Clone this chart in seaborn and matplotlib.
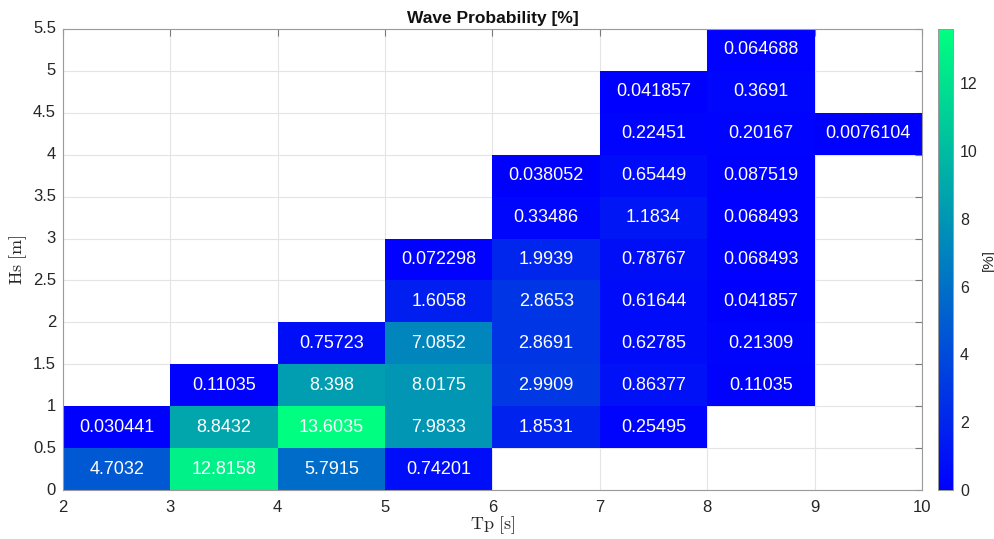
import numpy as np
import pandas as pd
import matplotlib
matplotlib.use("Agg")
import matplotlib.pyplot as plt
import seaborn as sns

# Peak period bins (lower edges, s) and significant wave height bins (lower edges, m)
tp_edges = [2, 3, 4, 5, 6, 7, 8, 9, 10]
hs_edges = [0, 0.5, 1, 1.5, 2, 2.5, 3, 3.5, 4, 4.5, 5, 5.5]

# Occurrence probability [%] per Hs row (bottom to top), one value per Tp bin
hs_0_0_5 = [4.7032, 12.8158, 5.7915, 0.74201, None, None, None, None]
hs_0_5_1 = [0.030441, 8.8432, 13.6035, 7.9833, 1.8531, 0.25495, None, None]
hs_1_1_5 = [None, 0.11035, 8.398, 8.0175, 2.9909, 0.86377, 0.11035, None]
hs_1_5_2 = [None, None, 0.75723, 7.0852, 2.8691, 0.62785, 0.21309, None]
hs_2_2_5 = [None, None, None, 1.6058, 2.8653, 0.61644, 0.041857, None]
hs_2_5_3 = [None, None, None, 0.072298, 1.9939, 0.78767, 0.068493, None]
hs_3_3_5 = [None, None, None, None, 0.33486, 1.1834, 0.068493, None]
hs_3_5_4 = [None, None, None, None, 0.038052, 0.65449, 0.087519, None]
hs_4_4_5 = [None, None, None, None, None, 0.22451, 0.20167, 0.0076104]
hs_4_5_5 = [None, None, None, None, None, 0.041857, 0.3691, None]
hs_5_5_5 = [None, None, None, None, None, None, 0.064688, None]

rows = [hs_0_0_5, hs_0_5_1, hs_1_1_5, hs_1_5_2, hs_2_2_5, hs_2_5_3,
        hs_3_3_5, hs_3_5_4, hs_4_4_5, hs_4_5_5, hs_5_5_5]
prob = pd.DataFrame(np.array(rows, dtype=float),
                    index=hs_edges[:-1], columns=tp_edges[:-1])

sns.set_theme(style="white")
plt.rcParams["font.family"] = ["Liberation Sans", "DejaVu Sans"]
plt.rcParams["mathtext.fontset"] = "cm"

fig = plt.figure(figsize=(9.95, 5.39), dpi=100)
ax = fig.add_axes([0.0633, 0.0909, 0.8633, 0.8553])
cax = fig.add_axes([0.9427, 0.0909, 0.0151, 0.8553])

sns.heatmap(prob, ax=ax, cbar_ax=cax, cmap="winter", vmin=0,
            vmax=np.nanmax(prob.values), annot=True, fmt=".6g",
            annot_kws={"color": "white", "fontsize": 13},
            linewidths=0, square=False)

# Bottom row of Hs at the bottom of the axes
ax.set_ylim(0, len(hs_edges) - 1)
ax.set_xlim(0, len(tp_edges) - 1)

ax.set_xticks(range(len(tp_edges)))
ax.set_xticklabels([f"{v:g}" for v in tp_edges], rotation=0)
ax.set_yticks(range(len(hs_edges)))
ax.set_yticklabels([f"{v:g}" for v in hs_edges], rotation=0)

ax.set_axisbelow(True)
ax.grid(True, color="#e4e4e4", linewidth=0.8)
for s in ax.spines.values():
    s.set_visible(True)
    s.set_color("#9a9a9a")
    s.set_linewidth(0.8)
ax.tick_params(axis="both", direction="in", length=5, width=0.8,
               color="#7a7a7a", labelsize=12, labelcolor="#262626",
               top=True, right=True)
ax.tick_params(axis="x", pad=7)
ax.tick_params(axis="y", pad=5)

ax.set_xlabel(r"$\mathrm{Tp\ [s]}$", fontsize=13, color="#262626", labelpad=0)
ax.set_ylabel(r"$\mathrm{Hs\ [m]}$", fontsize=13, color="#262626", labelpad=3)
ax.set_title("Wave Probability [%]", fontsize=12.5, fontweight="bold",
             color="#111111", pad=4)

cax.set_yticks([0, 2, 4, 6, 8, 10, 12])
cax.tick_params(axis="y", direction="in", length=4, width=0.8,
                color="#7a7a7a", labelsize=11.5, labelcolor="#262626", pad=5)
cax.set_ylabel("[%]", fontsize=11, color="#262626", labelpad=3)
for s in cax.spines.values():
    s.set_visible(True)
    s.set_color("#9a9a9a")
    s.set_linewidth(0.6)

fig.savefig("out.png", dpi=100)
